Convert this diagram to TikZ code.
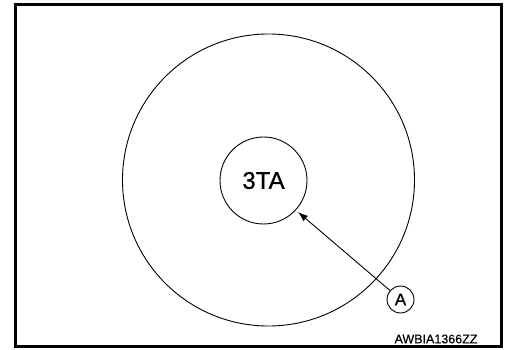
\documentclass[tikz,border=0pt]{standalone}
\usepackage{fontspec}
\setmainfont{Liberation Sans}
\newfontfamily\heavy[FakeBold=0.8]{Liberation Sans}
\newfontfamily\semiheavy[FakeBold=0.4]{Liberation Sans}
\usetikzlibrary{arrows.meta}
\begin{document}
\begin{tikzpicture}[x=1pt,y=-1pt,
  labelcircle/.style={circle,draw=black,line width=0.9pt,inner sep=0pt,minimum size=27pt,font=\heavy\fontsize{17}{17}\selectfont},
  pointer/.style={draw=black,line width=0.9pt,-{Latex[length=10pt,width=7pt]}}]
\useasboundingbox (0,0) rectangle (506,350);
\draw[line width=3pt] (15,5) rectangle (501.5,346);
\node[circle,draw=black,line width=0.9pt,minimum size=292pt,inner sep=0pt] (outer) at (268.5,180) {};
\node[circle,draw=black,line width=0.9pt,minimum size=87pt,inner sep=0pt,font=\heavy\fontsize{24}{24}\selectfont] (inner) at (263.5,180.5) {3TA};
\node[labelcircle] (A) at (400.5,299.5) {A};
\coordinate (tip) at (298,212);
\draw[pointer] (A) -- (tip);
\node[font=\semiheavy\fontsize{12.5}{12.5}\selectfont] (code) at (436,339) {AWBIA1366ZZ};
\end{tikzpicture}
\end{document}
